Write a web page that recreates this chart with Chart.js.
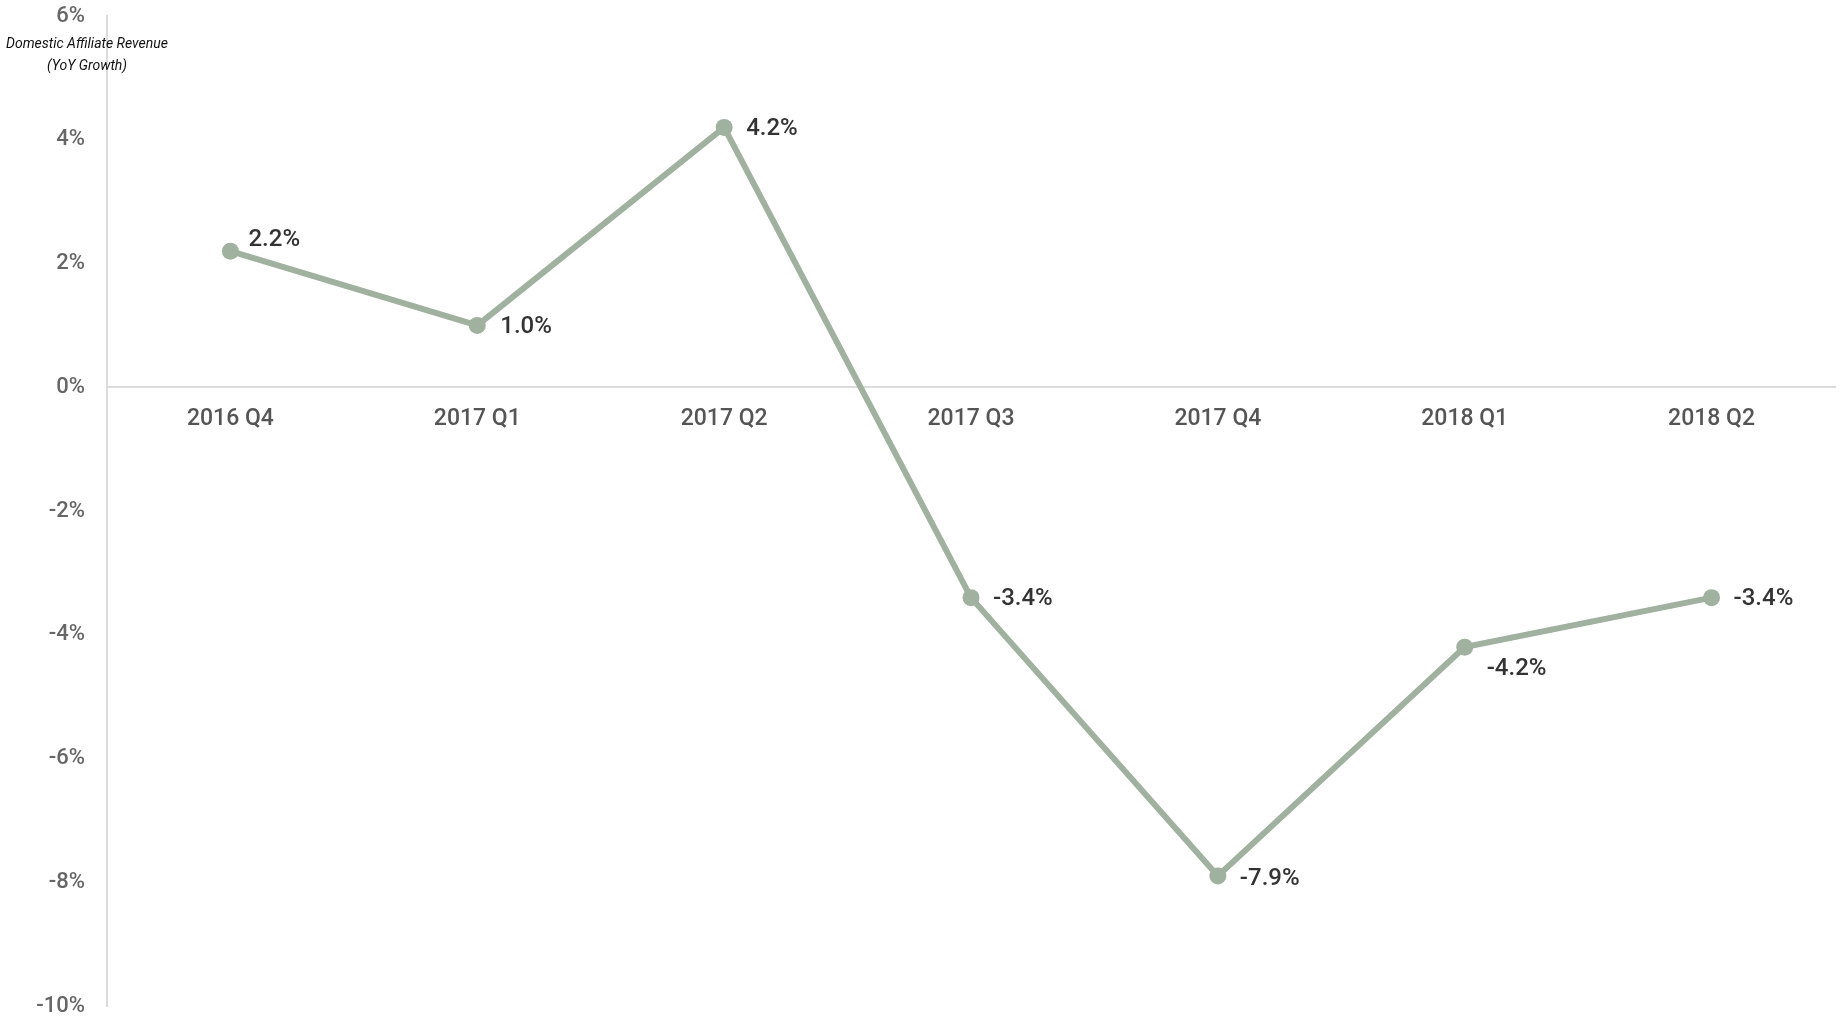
<!DOCTYPE html>
<html>
<head>
<meta charset="utf-8">
<script src="https://cdn.jsdelivr.net/npm/chart.js@4.4.0/dist/chart.umd.min.js"></script>
<style>
  html, body { margin: 0; padding: 0; background: #fff; }
  #wrap { width: 1847px; height: 1017px; }
</style>
</head>
<body>
<div id="wrap"><canvas id="lineChart"></canvas></div>
<script>
// Data
var quarters = ["2016 Q4", "2017 Q1", "2017 Q2", "2017 Q3", "2017 Q4", "2018 Q1", "2018 Q2"];
var growth = [2.2, 1.0, 4.2, -3.4, -7.9, -4.2, -3.4];
var yTicks = [-10, -8, -6, -4, -2, 0, 2, 4, 6];
var axisTitle = ["Domestic Affiliate Revenue", "(YoY Growth)"];

// label nudges (px) so text sits beside the points
var labelDx = [18, 23, 22, 22, 22, 22, 22];
var labelDy = [-11, 2, 2, 1, 3, 22, 1];

var lineColor = "#a0b29f";

// value labels next to each point
var valueLabels = {
  id: "valueLabels",
  afterDatasetsDraw: function (chart) {
    var ctx = chart.ctx;
    var meta = chart.getDatasetMeta(0);
    ctx.save();
    ctx.font = "500 24px Roboto";
    ctx.fillStyle = "#333";
    ctx.textAlign = "left";
    ctx.textBaseline = "middle";
    meta.data.forEach(function (pt, i) {
      ctx.fillText(growth[i].toFixed(1) + "%", pt.x + labelDx[i], pt.y + labelDy[i]);
    });
    ctx.restore();
  },
};

// small italic axis title in the top left corner
var cornerTitle = {
  id: "cornerTitle",
  afterDraw: function (chart) {
    var ctx = chart.ctx;
    ctx.save();
    ctx.font = "italic 14px Roboto";
    ctx.fillStyle = "#111";
    ctx.textAlign = "center";
    ctx.textBaseline = "middle";
    ctx.fillText(axisTitle[0], 87, 44);
    ctx.fillText(axisTitle[1], 87, 66);
    ctx.restore();
  },
};

var ctx = document.getElementById("lineChart").getContext("2d");

var myChart = new Chart(ctx, {
  type: "line",
  data: {
    labels: quarters,
    datasets: [
      {
        data: growth,
        borderColor: lineColor,
        backgroundColor: lineColor,
        borderWidth: 6,
        pointRadius: 8.5,
        pointHoverRadius: 8.5,
        pointBackgroundColor: lineColor,
        pointBorderWidth: 0,
        tension: 0,
      },
    ],
  },
  options: {
    responsive: true,
    maintainAspectRatio: false,
    animation: false,
    layout: { padding: { top: 16, bottom: 11, right: 12, left: 0 } },
    plugins: {
      legend: { display: false },
      tooltip: { enabled: false },
    },
    scales: {
      x: {
        position: { y: 0 },
        offset: true,
        afterFit: function (scale) {
          scale.paddingLeft = 0;
          scale.paddingRight = 0;
          scale.paddingTop = 0;
          scale.paddingBottom = 0;
          scale.height = 0;
        },
        grid: { display: false, drawTicks: false },
        border: { display: true, color: "#dcdcdc", width: 2 },
        ticks: {
          padding: 18,
          color: "#555",
          font: { family: "Roboto", size: 23, weight: "500" },
        },
      },
      y: {
        min: -10,
        max: 6,
        afterFit: function (scale) {
          scale.width = 107;
          scale.paddingTop = 0;
          scale.paddingBottom = 0;
        },
        afterBuildTicks: function (scale) {
          scale.ticks = yTicks.map(function (v) { return { value: v }; });
        },
        grid: { display: false, drawTicks: false },
        border: { display: true, color: "#dcdcdc", width: 2 },
        ticks: {
          padding: 22,
          color: "#666",
          font: { family: "Roboto", size: 22, weight: "500" },
          callback: function (v) { return v + "%"; },
        },
      },
    },
  },
  plugins: [valueLabels, cornerTitle],
});
</script>
</body>
</html>
